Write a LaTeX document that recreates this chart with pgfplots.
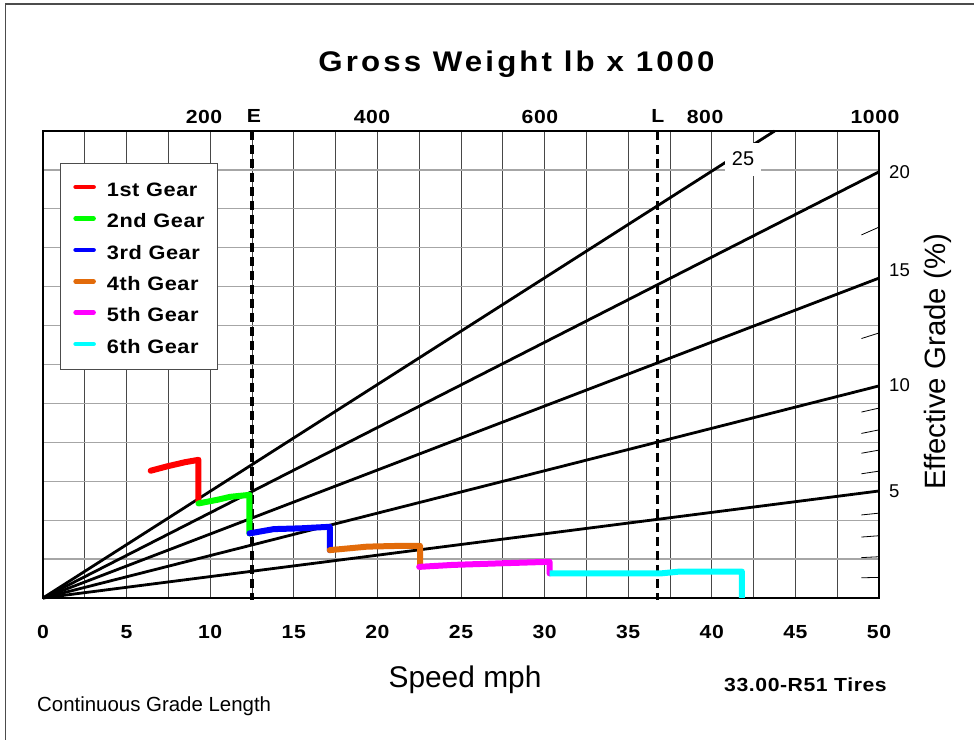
\documentclass[border=0pt]{standalone}
\usepackage{fontspec}
\setmainfont{Liberation Sans}
\newfontfamily\sbf{Liberation Sans}[FakeStretch=1.12,LetterSpace=3]
\newfontfamily\tbf{Liberation Sans}[FakeStretch=1.1,LetterSpace=11]
\usepackage{pgfplots}
\pgfplotsset{compat=1.18}
\definecolor{gorange}{RGB}{226,107,10}
\definecolor{ggreen}{RGB}{0,255,0}
\definecolor{gcyan}{RGB}{0,255,255}
\definecolor{gmag}{RGB}{255,0,255}
\begin{document}
\begin{tikzpicture}
\useasboundingbox (0,0) rectangle (974bp,740bp);
\draw[black!70, line width=1.2bp] (5.5bp,0bp) -- (5.5bp,736bp) -- (974bp,736bp);
\begin{axis}[
  at={(43bp,142bp)}, anchor=south west,
  scale only axis, width=836bp, height=467bp,
  xmin=0, xmax=50, ymin=0, ymax=12,
  clip=false,
  axis line style={line width=1.8bp},
  xtick={0,5,...,50}, minor xtick={2.5,7.5,...,47.5},
  ytick={0,1,...,12}, yticklabels={},
  major tick length=0pt, minor tick length=0pt,
  xmajorgrids, xminorgrids, ymajorgrids,
  major x grid style={black!72,line width=1bp},
  minor x grid style={black!72,line width=1bp},
  major y grid style={black!35,line width=1.3bp},
  xticklabels={0,5,10,15,20,25,30,35,40,45,50},
  xticklabel style={font=\sbf\bfseries\fontsize{19}{20}\selectfont, inner sep=0pt, anchor=north, yshift=-27bp},
  /pgf/number format/assume math mode=true,
  legend style={at={(0.0203,0.9315)}, anchor=north west, draw=black!70, line width=0.8bp, fill=white,
    inner xsep=13bp, inner ysep=9bp, row sep=0pt,
    font=\sbf\bfseries\fontsize{19.5}{20}\selectfont,
    nodes={inner sep=0pt, text height=24bp, text depth=7.4bp},
    /tikz/every odd column/.append style={column sep=11bp}},
  legend cell align=left,
  legend image code/.code={\draw[#1,line width=4.5bp,line cap=round] (0bp,1bp) -- (18bp,1bp);},
]
% effective grade lines
\addplot[black, line width=2.8bp, forget plot] coordinates {(0,0) (50,2.75)};
\addplot[black, line width=2.8bp, forget plot] coordinates {(0,0) (50,5.45)};
\addplot[black, line width=2.8bp, forget plot] coordinates {(0,0) (50,8.22)};
\addplot[black, line width=2.8bp, forget plot] coordinates {(0,0) (50,10.95)};
\addplot[black, line width=2.8bp, forget plot] coordinates {(0,0) (43.76,12)};
% grade scale ticks
\addplot[black, line width=0.8bp, forget plot] coordinates {(48.95,0.519) (50,0.53)};
\addplot[black, line width=0.8bp, forget plot] coordinates {(48.95,1.038) (50,1.06)};
\addplot[black, line width=0.8bp, forget plot] coordinates {(48.95,1.566) (50,1.60)};
\addplot[black, line width=0.8bp, forget plot] coordinates {(48.95,2.134) (50,2.18)};
\addplot[black, line width=0.8bp, forget plot] coordinates {(48.95,3.192) (50,3.26)};
\addplot[black, line width=0.8bp, forget plot] coordinates {(48.95,3.720) (50,3.80)};
\addplot[black, line width=0.8bp, forget plot] coordinates {(48.95,4.229) (50,4.32)};
\addplot[black, line width=0.8bp, forget plot] coordinates {(48.95,4.778) (50,4.88)};
\addplot[black, line width=0.8bp, forget plot] coordinates {(48.95,6.667) (50,6.81)};
\addplot[black, line width=0.8bp, forget plot] coordinates {(48.95,9.330) (50,9.53)};
% E and L lines
\addplot[black, line width=3.4bp, dash pattern=on 9bp off 5bp, forget plot] coordinates {(12.5,12) (12.5,-0.06)};
\addplot[black, line width=3.4bp, dash pattern=on 9bp off 5bp, forget plot] coordinates {(36.76,12) (36.76,-0.06)};
% gears
\addplot[red, line width=6bp, line join=round, line cap=round] coordinates {(6.44,3.27) (7.4,3.38) (8.5,3.49) (9.3,3.55) (9.3,2.48)};
\addlegendentry{1st Gear}
\addplot[ggreen, line width=6bp, line join=round, line cap=round] coordinates {(9.3,2.43) (10.5,2.53) (11.2,2.60) (12.35,2.65) (12.35,1.66)};
\addlegendentry{2nd Gear}
\addplot[blue, line width=6bp, line join=round, line cap=round] coordinates {(12.35,1.66) (13.8,1.77) (15.4,1.79) (17.15,1.83) (17.15,1.23)};
\addlegendentry{3rd Gear}
\addplot[gorange, line width=6bp, line join=round, line cap=round] coordinates {(17.15,1.23) (19.4,1.32) (21.4,1.34) (22.55,1.34) (22.55,0.80)};
\addlegendentry{4th Gear}
\addplot[gmag, line width=6bp, line join=round, line cap=round] coordinates {(22.5,0.80) (24.5,0.85) (27.3,0.89) (30.3,0.93) (30.3,0.63)};
\addlegendentry{5th Gear}
\addplot[gcyan, line width=6bp, line join=round] coordinates {(30.3,0.63) (36.9,0.63) (38.1,0.68) (41.8,0.68) (41.8,0)};
\addlegendentry{6th Gear}
% labels
\node[fill=white, inner sep=0pt, minimum width=36bp, minimum height=33bp, font=\fontsize{20}{20}\selectfont] at (axis cs:41.87,11.28) {25};
\node[font=\sbf\bfseries\fontsize{19}{20}\selectfont, anchor=base] at (axis cs:9.63,12.205) {200};
\node[font=\sbf\bfseries\fontsize{19}{20}\selectfont, anchor=base] at (axis cs:19.68,12.205) {400};
\node[font=\sbf\bfseries\fontsize{19}{20}\selectfont, anchor=base] at (axis cs:29.72,12.205) {600};
\node[font=\sbf\bfseries\fontsize{19}{20}\selectfont, anchor=base] at (axis cs:39.6,12.205) {800};
\node[font=\sbf\bfseries\fontsize{19}{20}\selectfont, anchor=base] at (axis cs:49.76,12.205) {1000};
\node[font=\sbf\bfseries\fontsize{19}{20}\selectfont, anchor=base] at (axis cs:12.62,12.23) {E};
\node[font=\sbf\bfseries\fontsize{19}{20}\selectfont, anchor=base] at (axis cs:36.78,12.23) {L};
\node[font=\fontsize{18.6}{20}\selectfont, anchor=west, inner sep=0pt, xshift=10bp] at (axis cs:50,10.95) {20};
\node[font=\fontsize{18.6}{20}\selectfont, anchor=west, inner sep=0pt, xshift=10bp] at (axis cs:50,8.41) {15};
\node[font=\fontsize{18.6}{20}\selectfont, anchor=west, inner sep=0pt, xshift=10bp] at (axis cs:50,5.47) {10};
\node[font=\fontsize{18.6}{20}\selectfont, anchor=west, inner sep=0pt, xshift=10bp] at (axis cs:50,2.74) {5};
\end{axis}
\node[font=\tbf\bfseries\fontsize{28.5}{30}\selectfont, anchor=base, inner sep=0pt] at (516.5bp,668.3bp) {Gross Weight lb x 1000};
\node[font=\fontsize{30}{34}\selectfont, anchor=base, inner sep=0pt] at (465bp,52bp) {Speed mph};
\node[font=\sbf\bfseries\fontsize{19}{22}\selectfont, anchor=base, inner sep=0pt] at (805.5bp,48.3bp) {33.00-R51 Tires};
\node[font=\fontsize{20.5}{22}\selectfont, anchor=base west, inner sep=0pt] at (37bp,28.3bp) {Continuous Grade Length};
\node[font=\fontsize{29.5}{32}\selectfont, anchor=base, inner sep=0pt, rotate=90] at (945bp,378bp) {Effective Grade (\%)};
\end{tikzpicture}
\end{document}
